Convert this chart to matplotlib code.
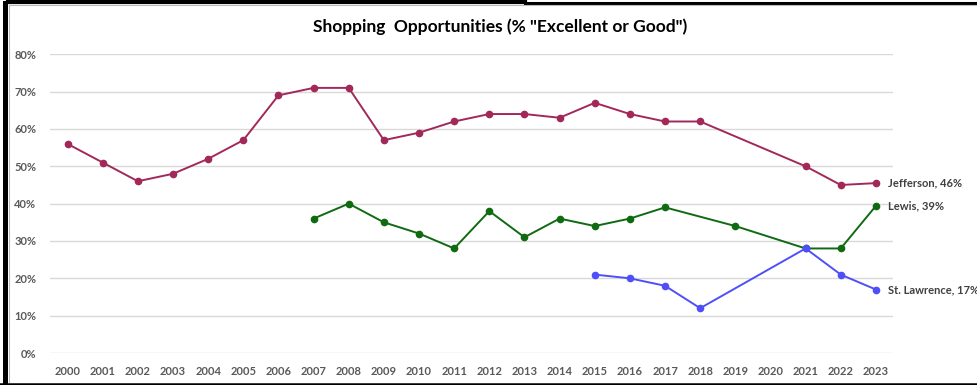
import numpy as np
import matplotlib.pyplot as plt
from matplotlib.lines import Line2D

##########################
# Data
##########################

years = list(range(2000, 2024))

jefferson_years = [2000, 2001, 2002, 2003, 2004, 2005, 2006, 2007, 2008, 2009, 2010,
                   2011, 2012, 2013, 2014, 2015, 2016, 2017, 2018, 2021, 2022, 2023]
jefferson = [56, 51, 46, 48, 52, 57, 69, 71, 71, 57, 59,
             62, 64, 64, 63, 67, 64, 62, 62, 50, 45, 45.5]

lewis_years = [2007, 2008, 2009, 2010, 2011, 2012, 2013, 2014, 2015, 2016, 2017,
               2019, 2021, 2022, 2023]
lewis = [36, 40, 35, 32, 28, 38, 31, 36, 34, 36, 39, 34, 28, 28, 39.4]

stl_years = [2015, 2016, 2017, 2018, 2021, 2022, 2023]
stl = [21, 20, 18, 12, 28, 21, 17]

series = [
    ('Jefferson', jefferson_years, jefferson, '#a3285a', 'Jefferson, 46%'),
    ('Lewis', lewis_years, lewis, '#0f6a12', 'Lewis, 39%'),
    ('St. Lawrence', stl_years, stl, '#4f4ffa', 'St. Lawrence, 17%'),
]

yticks = [0, 10, 20, 30, 40, 50, 60, 70, 80]

##########################
# Figure
##########################

plt.rcParams['font.family'] = ['Lato', 'DejaVu Sans']

fig = plt.figure(figsize=(9.77, 3.85), dpi=100)
ax = fig.add_axes([0.0512, 0.0831, 0.8633, 0.7759])

for name, xs, ys, color, label in series:
    ax.plot(xs, ys, color=color, linewidth=1.4, marker='o', markersize=4.5,
            label=name, zorder=3)
    ax.annotate(label, xy=(xs[-1], ys[-1]), xytext=(8.5, 0),
                textcoords='offset points', va='center', ha='left',
                fontsize=8, fontweight='bold', color='#404040',
                annotation_clip=False)

ax.set_xlim(1999.5, 2023.5)
ax.set_ylim(0, 80)
ax.set_xticks(years)
ax.set_xticklabels([str(y) for y in years])
ax.set_yticks(yticks)
ax.set_yticklabels(['%d%%' % v for v in yticks])
ax.tick_params(axis='both', length=0, labelsize=8, labelcolor='#595959')
ax.tick_params(axis='x', pad=9)
ax.tick_params(axis='y', pad=10)
for lbl in ax.get_xticklabels() + ax.get_yticklabels():
    lbl.set_fontweight('bold')

ax.yaxis.grid(True, color='#d9d9d9', linewidth=1)
ax.set_axisbelow(True)
for sp in ax.spines.values():
    sp.set_visible(False)

fig.text(0.512, 0.93, 'Shopping  Opportunities (% "Excellent or Good")',
         ha='center', va='center', fontsize=12.5, fontweight='bold',
         color='#000000')

# frame edges from the screenshot
W, H = 977.0, 385.0
fig.add_artist(Line2D([8 / W, 525 / W], [1 - 2 / H, 1 - 2 / H], color='black',
                      linewidth=3.0, transform=fig.transFigure))
fig.add_artist(Line2D([525 / W, 1], [1 - 2.5 / H, 1 - 2.5 / H], color='black',
                      linewidth=2.2, transform=fig.transFigure))
fig.add_artist(Line2D([4.5 / W, 4.5 / W], [0, 1 - 3 / H], color='black',
                      linewidth=3.6, transform=fig.transFigure))
fig.add_artist(Line2D([0, 1], [1.5 / H, 1.5 / H], color='black',
                      linewidth=1.8, transform=fig.transFigure))
fig.add_artist(Line2D([9 / W, 1], [1 - 5 / H, 1 - 5 / H], color='#bbbbbb',
                      linewidth=0.8, transform=fig.transFigure))
fig.add_artist(Line2D([9 / W, 9 / W], [3 / H, 1 - 5 / H], color='#bbbbbb',
                      linewidth=0.8, transform=fig.transFigure))

plt.savefig('out.png', dpi=100)
plt.close()
